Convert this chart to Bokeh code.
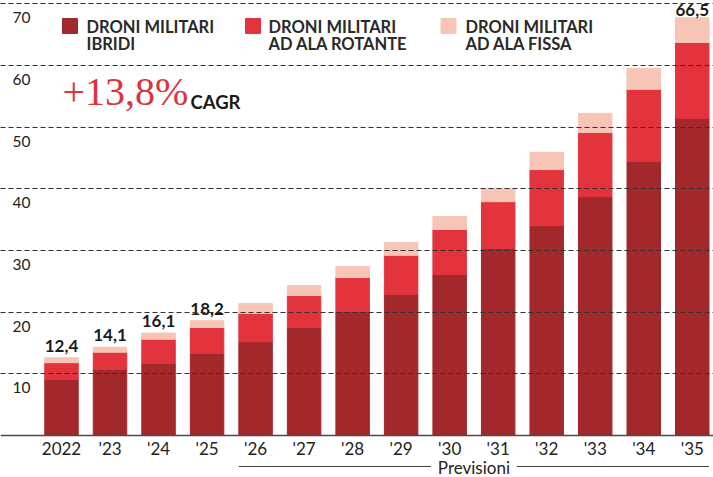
from bokeh.plotting import figure
from bokeh.models import ColumnDataSource, Range1d, Grid, FixedTicker, Span
from bokeh.core.properties import value
from bokeh.embed import file_html
from bokeh.resources import INLINE

# ---------------- data ----------------
years = ["2022", "'23", "'24", "'25", "'26", "'27", "'28", "'29", "'30", "'31", "'32", "'33", "'34", "'35"]
ibridi = [9.1, 10.7, 11.7, 13.3, 15.2, 17.5, 20.1, 22.9, 26.1, 30.3, 34.0, 38.7, 44.4, 51.4]
rotante = [2.7, 2.8, 3.9, 4.2, 4.6, 5.2, 5.5, 6.3, 7.3, 7.6, 9.1, 10.4, 11.7, 12.3]
fissa = [0.8, 0.8, 1.0, 1.1, 1.6, 1.6, 1.8, 2.1, 2.1, 2.1, 2.8, 3.1, 3.4, 4.0]
total_labels = ["12,4", "14,1", "16,1", "18,2", "", "", "", "", "", "", "", "", "", "66,5"]
series_names = ["DRONI MILITARI\nIBRIDI", "DRONI MILITARI\nAD ALA ROTANTE", "DRONI MILITARI\nAD ALA FISSA"]
series_colors = ["#A2282B", "#E3343E", "#F6C5B5"]
y_ticks = [10, 20, 30, 40, 50, 60, 70]
cagr_value = "+13,8%"
cagr_label = "CAGR"
forecast_label = "Previsioni"
forecast_start = "'26"

# ---------------- layout ----------------
W, H = 713, 477
PX_PER_X = 48.52
X0 = -61 / PX_PER_X
PX_PER_Y = 6.17
BASE_PX = 435
BAR_W = 0.69
FONT = value("Lato")


def dx(px):
    return X0 + px / PX_PER_X


def dy(py):
    return (BASE_PX - py) / PX_PER_Y


p = figure(width=W, height=H,
           x_range=Range1d(X0, X0 + W / PX_PER_X),
           y_range=Range1d(-(H - BASE_PX) / PX_PER_Y, BASE_PX / PX_PER_Y),
           x_axis_type=None, y_axis_type=None,
           toolbar_location=None, output_backend="svg",
           min_border=0, outline_line_color=None)
p.min_border_left = p.min_border_right = p.min_border_top = p.min_border_bottom = 0
p.background_fill_color = "white"
p.border_fill_color = "white"

n = len(years)
xs = list(range(n))
source = ColumnDataSource(dict(x=xs, ibridi=ibridi, rotante=rotante, fissa=fissa))
p.vbar_stack(["ibridi", "rotante", "fissa"], x="x", width=BAR_W,
             color=series_colors, source=source)

# grid lines drawn over the bars
grid = Grid(dimension=1, ticker=FixedTicker(ticks=y_ticks),
            grid_line_color="#333333", grid_line_dash="5 3",
            grid_line_width=1.2, level="overlay")
p.add_layout(grid)

p.add_layout(Span(location=0, dimension="width", line_color="#4a4a4a", line_width=1.5))

# y tick labels (inside the plot, under each gridline)
p.text(x=[dx(12)] * len(y_ticks), y=y_ticks, text=[str(t) for t in y_ticks],
       text_font=FONT, text_font_size="15.5px", text_color="#222222",
       text_align="left", text_baseline="middle", y_offset=14)

# x category labels
p.text(x=xs, y=[0] * n, text=years,
       text_font=FONT, text_font_size="17px", text_color="#222222",
       text_align="center", text_baseline="middle", y_offset=13)

# value labels (kept inside the top edge)
totals = [a + b + c for a, b, c in zip(ibridi, rotante, fissa)]
lab_idx = [i for i in range(n) if total_labels[i]]
lab_y = [min(totals[i] + 12 / PX_PER_Y, dy(9)) for i in lab_idx]
p.text(x=[xs[i] for i in lab_idx], y=lab_y,
       text=[total_labels[i] for i in lab_idx],
       text_font=FONT, text_font_style="bold", text_font_size="17px",
       text_color="#1a1a1a", text_align="center", text_baseline="middle")

# legend
sw_px = [69.5, 252.5, 448]
tx_px = [86, 268, 465]
p.rect(x=[dx(v) for v in sw_px], y=[dy(25.5)] * 3, width=15, height=15,
       width_units="screen", height_units="screen", color=series_colors)
line1 = [s.split("\n")[0] for s in series_names]
line2 = [s.split("\n")[1] for s in series_names]
for lines, ypx in ((line1, 26), (line2, 43.5)):
    p.text(x=[dx(v) for v in tx_px], y=[dy(ypx)] * 3, text=lines,
           text_font=FONT, text_font_style="bold", text_font_size="16.5px",
           text_color="#2a2a2a", text_align="left", text_baseline="middle")

# CAGR
p.text(x=[dx(62)], y=[dy(91)], text=[cagr_value],
       text_font=value("Liberation Serif"), text_font_size="40px",
       text_color="#D9343F", text_align="left", text_baseline="middle")
p.text(x=[dx(190)], y=[dy(101)], text=[cagr_label],
       text_font=FONT, text_font_style="bold", text_font_size="18.5px",
       text_color="#1a1a1a", text_align="left", text_baseline="middle")

# "Previsioni" bracket
fs = years.index(forecast_start)
left = fs - BAR_W / 2
right = (n - 1) + BAR_W / 2
mid = (left + right) / 2
half_gap = 43 / PX_PER_X
yl = -31 / PX_PER_Y
p.segment(x0=[left, mid + half_gap], y0=[yl, yl], x1=[mid - half_gap, right], y1=[yl, yl],
          line_color="#444444", line_width=1)
p.text(x=[mid], y=[0], text=[forecast_label],
       text_font=FONT, text_font_size="17px", text_color="#222222",
       text_align="center", text_baseline="middle", y_offset=32)

open("out.html", "w").write(file_html(p, INLINE))
